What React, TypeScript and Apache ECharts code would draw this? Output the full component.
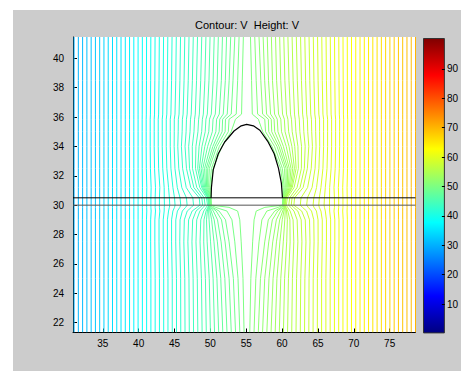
import React, { useEffect, useRef } from "react";
import * as echarts from "echarts";

const contourLevels = [
  30, 30.5, 31, 31.5, 32, 32.5, 33, 33.5, 34, 34.5, 35, 35.5, 36, 36.5, 37, 37.5,
  38, 38.5, 39, 39.5, 40, 40.5, 41, 41.5, 42, 42.5, 43, 43.5, 44, 44.5, 45, 45.5,
  46, 46.5, 47, 47.5, 48, 48.5, 49, 49.5, 50, 50.5, 51, 51.5, 52, 52.5, 53, 53.5,
  54, 54.5, 55, 55.5, 56, 56.5, 57, 57.5, 58, 58.5, 59, 59.5, 60, 60.5, 61, 61.5,
  62, 62.5, 63, 63.5, 64, 64.5, 65, 65.5, 66, 66.5, 67, 67.5, 68, 68.5, 69, 69.5, 70,
];
// far-field position of the first and last level (lines are straight far away)
const farFieldV = [30, 70];
const farFieldX = [31.0, 78.6];
// centre of the obstacle, around which lines are displaced
const obstacleCentreX = 55.1;
// stations (y) where the displacement of the lines was read
const warpStationY = [21.35, 25, 27.5, 29.0, 29.6, 29.85, 30.0, 30.5, 31.2, 32.5, 34.0, 35.0, 35.85, 36.2, 38.5, 41.45];
// per station: [far-field distance from centre, actual distance from centre]
const warpStationKnots = [
  [[0.3, 0.4], [0.9, 1.0], [1.5, 1.6], [3, 3.1], [6, 6.0], [15, 15]],
  [[0.3, 0.55], [0.9, 1.25], [1.5, 1.9], [3, 3.4], [6, 6.1], [10, 10], [15, 15]],
  [[0.3, 0.8], [0.9, 1.7], [1.5, 2.5], [3, 3.9], [6, 6.3], [10, 10.1], [15, 15]],
  [[0.3, 1.0], [0.9, 2.1], [1.5, 3.0], [3, 4.4], [6, 6.2], [8, 8.1], [10, 10.1], [15, 15]],
  [[0.3, 1.3], [0.9, 2.8], [1.5, 3.9], [3, 4.9], [6, 5.8], [8, 7.6], [10, 9.9], [15, 15]],
  [[0.3, 2.5], [0.9, 4.4], [1.5, 4.8], [3, 5.15], [6, 5.5], [8, 6.9], [10, 9.6], [12, 12], [15, 15]],
  [[0.3, 4.95], [0.9, 5.0], [1.5, 5.05], [3, 5.15], [6, 5.35], [8, 6.5], [10, 9.5], [12, 12], [15, 15]],
  [[0.3, 5.0], [0.9, 5.05], [1.5, 5.1], [3, 5.25], [6, 5.5], [8, 6.6], [10, 9.6], [12, 12], [15, 15]],
  [[0.3, 5.05], [0.9, 5.2], [1.5, 5.35], [3, 5.7], [6, 6.4], [8, 7.8], [10, 9.9], [15, 15]],
  [[0.3, 4.7], [0.9, 4.95], [1.5, 5.25], [3, 5.8], [6, 7.0], [8, 8.4], [10, 10.2], [15, 15]],
  [[0.3, 3.5], [0.9, 3.85], [1.5, 4.2], [3, 4.9], [6, 6.9], [10, 10.3], [15, 15]],
  [[0.3, 2.2], [0.9, 2.6], [1.5, 3.05], [3, 4.1], [6, 6.6], [10, 10.3], [15, 15]],
  [[0.3, 1.6], [0.9, 2.5], [1.5, 3.0], [3, 4.0], [6, 6.5], [10, 10.3], [15, 15]],
  [[0.3, 0.75], [0.9, 1.5], [1.5, 2.2], [3, 3.6], [6, 6.4], [10, 10.2], [15, 15]],
  [[0.3, 0.65], [0.9, 1.3], [1.5, 1.95], [3, 3.3], [6, 6.2], [10, 10.1], [15, 15]],
  [[0.3, 0.5], [0.9, 1.1], [1.5, 1.7], [3, 3.15], [6, 6.05], [15, 15]],
];
// obstacle outline
const obstacleX = [50.1, 50.15, 50.4, 51.1, 52.0, 53.3, 54.3, 55.06, 56.0, 56.9, 58.0, 58.9, 59.5, 59.9, 60.05];
const obstacleY = [30.5, 31.2, 32.4, 33.5, 34.3, 35.05, 35.4, 35.5, 35.4, 35.1, 34.35, 33.5, 32.5, 31.5, 30.5];
// horizontal plate lines
const plateY = [30.5, 30.0];
const plateColors = ["#000000", "#555555"];
// axes
const xRange = [30.85, 78.6];
const yRange = [21.33, 41.45];
const xTicks = [35, 40, 45, 50, 55, 60, 65, 70, 75];
const yTicks = [22, 24, 26, 28, 30, 32, 34, 36, 38, 40];
const colorRange = [0, 100.5];
const colorbarTicks = [10, 20, 30, 40, 50, 60, 70, 80, 90];

const FONT = '"Liberation Sans", Arial, sans-serif';

function jet(t: number): string {
  const c = (v: number) => Math.round(255 * Math.max(0, Math.min(1, v)));
  const r = c(1.5 - Math.abs(4 * t - 3));
  const g = c(1.5 - Math.abs(4 * t - 2));
  const b = c(1.5 - Math.abs(4 * t - 1));
  return `rgb(${r},${g},${b})`;
}

function interp(knots: number[][], d0: number): number {
  if (d0 <= knots[0][0]) return knots[0][1] + (d0 - knots[0][0]);
  for (let i = 1; i < knots.length; i++) {
    if (d0 <= knots[i][0]) {
      const [a0, a1] = knots[i - 1];
      const [b0, b1] = knots[i];
      return a1 + ((d0 - a0) / (b0 - a0)) * (b1 - a1);
    }
  }
  const last = knots[knots.length - 1];
  return last[1] + (d0 - last[0]);
}

function farX(v: number): number {
  return farFieldX[0] + ((v - farFieldV[0]) / (farFieldV[1] - farFieldV[0])) * (farFieldX[1] - farFieldX[0]);
}

export default function App() {
  const ref = useRef<HTMLDivElement>(null);
  useEffect(() => {
    if (!ref.current) return;
    const chart = echarts.init(ref.current, undefined, { renderer: "svg" });

    const contourSeries = contourLevels.map((v) => {
      const x0 = farX(v);
      const s = x0 < obstacleCentreX ? -1 : 1;
      const d0 = Math.abs(x0 - obstacleCentreX);
      const data = warpStationY.map((y, i) => [obstacleCentreX + s * interp(warpStationKnots[i], d0), y]);
      return {
        type: "line",
        xAxisIndex: 0,
        yAxisIndex: 0,
        data,
        symbol: "none",
        silent: true,
        z: 2,
        lineStyle: { width: 1, color: jet((v - colorRange[0]) / (colorRange[1] - colorRange[0])) },
      };
    });

    const plateSeries = plateY.map((y, i) => ({
      type: "line",
      xAxisIndex: 0,
      yAxisIndex: 0,
      data: [[xRange[0], y], [xRange[1], y]],
      symbol: "none",
      silent: true,
      z: 3,
      lineStyle: { width: 1, color: plateColors[i] },
    }));

    const obstacleSeries = {
      type: "line",
      xAxisIndex: 0,
      yAxisIndex: 0,
      data: obstacleX.map((x, i) => [x, obstacleY[i]]),
      symbol: "none",
      silent: true,
      z: 4,
      lineStyle: { width: 1.2, color: "#000000" },
    };

    const jetStops = [0, 0.125, 0.375, 0.625, 0.875, 1].map((t) => ({ offset: t, color: jet(t) }));

    const colorbarSeries = {
      type: "bar",
      xAxisIndex: 1,
      yAxisIndex: 1,
      data: [colorRange[1]],
      barWidth: "100%",
      silent: true,
      itemStyle: {
        color: new echarts.graphic.LinearGradient(0, 1, 0, 0, jetStops),
        borderColor: "#333333",
        borderWidth: 1,
      },
    };

    const labelStyle = { fontFamily: FONT, fontSize: 10, color: "#000000" };

    chart.setOption({
      animation: false,
      backgroundColor: "#cccccc",
      graphic: [
        { type: "rect", shape: { x: 0, y: 0, width: 461, height: 10 }, style: { fill: "#ffffff" } },
        { type: "rect", shape: { x: 0, y: 0, width: 13, height: 371 }, style: { fill: "#ffffff" } },
        {
          type: "text",
          x: 247,
          y: 25,
          style: {
            text: "Contour: V  Height: V",
            fontFamily: FONT,
            fontSize: 11,
            fill: "#000000",
            textAlign: "center",
            textVerticalAlign: "middle",
          },
        },
      ],
      grid: [
        { left: 73, top: 37, width: 342.5, height: 295.5, show: true, backgroundColor: "#ffffff", borderWidth: 0 },
        { left: 423, top: 38, width: 25, height: 295.4, show: false },
      ],
      xAxis: [
        {
          type: "value",
          gridIndex: 0,
          min: xRange[0],
          max: xRange[1],
          axisLine: { show: true, onZero: false, lineStyle: { color: "#000000", width: 1 } },
          axisTick: { show: true, inside: true, length: 4, customValues: xTicks, lineStyle: { color: "#000000" } },
          axisLabel: { ...labelStyle, margin: 6, customValues: xTicks },
          splitLine: { show: false },
        },
        {
          type: "category",
          gridIndex: 1,
          data: ["cb"],
          show: false,
        },
      ],
      yAxis: [
        {
          type: "value",
          gridIndex: 0,
          min: yRange[0],
          max: yRange[1],
          axisLine: { show: true, onZero: false, lineStyle: { color: "#000000", width: 1 } },
          axisTick: { show: true, inside: true, length: 4, customValues: yTicks, lineStyle: { color: "#000000" } },
          axisLabel: { ...labelStyle, margin: 9, customValues: yTicks },
          splitLine: { show: false },
        },
        {
          type: "value",
          gridIndex: 1,
          position: "right",
          min: colorRange[0],
          max: colorRange[1],
          axisLine: { show: false },
          axisTick: { show: true, inside: true, length: 3, customValues: colorbarTicks, lineStyle: { color: "#000000" } },
          axisLabel: { ...labelStyle, margin: 2, customValues: colorbarTicks },
          splitLine: { show: false },
          z: 5,
        },
      ],
      series: [...contourSeries, ...plateSeries, obstacleSeries, colorbarSeries],
    });
    return () => chart.dispose();
  }, []);
  return <div ref={ref} style={{ position: "fixed", left: 0, top: 0, width: 461, height: 371 }} />;
}
